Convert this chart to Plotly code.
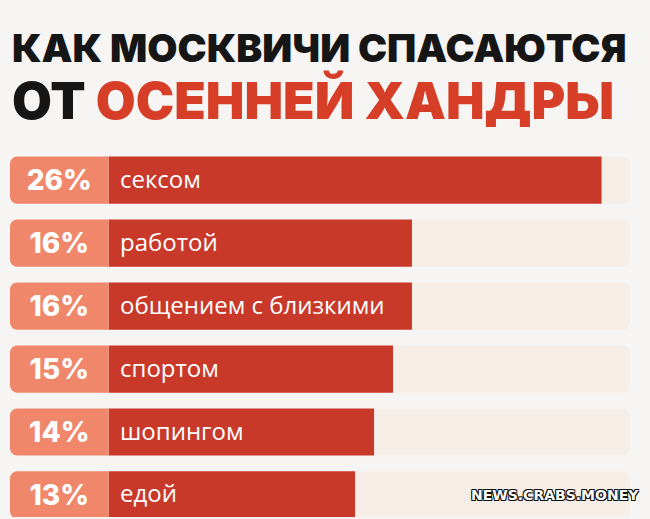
import plotly.graph_objects as go

categories = ["сексом", "работой", "общением с близкими", "спортом", "шопингом", "едой"]
values = [26, 16, 16, 15, 14, 13]
pct_labels = ["26%", "16%", "16%", "15%", "14%", "13%"]
title_line1 = "КАК МОСКВИЧИ СПАСАЮТСЯ"
title_line2_black = "ОТ"
title_line2_red = "ОСЕННЕЙ ХАНДРЫ"
watermark = "NEWS.CRABS.MONEY"

TRACK_MAX = 27.5
LABEL_W = 5.2

BG = "#f7f5f3"
RED = "#c9392a"
SALMON = "#f0876a"
TRACK = "#f6ede6"
TITLE_RED = "#d63e27"

y_idx = list(range(len(categories)))

fig = go.Figure()
# background track
fig.add_trace(go.Bar(
    y=y_idx, x=[TRACK_MAX] * len(categories), orientation="h",
    marker=dict(color=TRACK, cornerradius=7, line=dict(width=0)),
    width=0.75, hoverinfo="skip", showlegend=False))
# value bars
fig.add_trace(go.Bar(
    y=y_idx, x=values, orientation="h",
    marker=dict(color=RED, cornerradius=0, line=dict(width=0)),
    width=0.75, hoverinfo="skip", showlegend=False))
# percentage label boxes (to the left of zero)
fig.add_trace(go.Bar(
    y=y_idx, x=[-LABEL_W] * len(categories), orientation="h",
    marker=dict(color=SALMON, cornerradius=7, line=dict(width=0)),
    width=0.75, text=pct_labels, textposition="inside", insidetextanchor="middle",
    textfont=dict(family="Inter", size=28, color="white", weight=800),
    constraintext="none", textangle=0,
    hoverinfo="skip", showlegend=False))

annotations = []
for i, c in enumerate(categories):
    annotations.append(dict(
        x=0, y=i, xref="x", yref="y", text=c, showarrow=False,
        xanchor="left", yanchor="middle", xshift=9, yshift=2,
        font=dict(family="Open Sans", size=24, color="white", weight=500)))

plot_top = 133
plot_h = 384
def py(px):
    return (plot_top + plot_h - px) / plot_h

annotations.append(dict(
    x=0, y=py(47), xref="paper", yref="paper", xanchor="left", yanchor="middle",
    text=title_line1, showarrow=False,
    font=dict(family="Inter", size=39, color="#161616", weight=900)))
annotations.append(dict(
    x=0, y=py(100), xref="paper", yref="paper", xanchor="left", yanchor="middle",
    text=f"{title_line2_black} <span style='color:{TITLE_RED}'>{title_line2_red}</span>",
    showarrow=False,
    font=dict(family="Inter", size=51.5, color="#161616", weight=900)))
annotations.append(dict(
    x=1.0, y=py(495), xref="paper", yref="paper", xanchor="right", yanchor="middle",
    text=watermark, showarrow=False, xshift=11,
    font=dict(family="DejaVu Sans", size=14, color="white", weight=700,
              shadow="1px 1px 0 #111, -1px -1px 0 #111, 1px -1px 0 #111, -1px 1px 0 #111")))

fig.update_layout(
    width=650, height=519,
    margin=dict(l=10, r=20, t=plot_top, b=519 - plot_top - plot_h),
    paper_bgcolor=BG, plot_bgcolor=BG,
    barmode="overlay",
    xaxis=dict(range=[-LABEL_W, TRACK_MAX], visible=False, fixedrange=True),
    yaxis=dict(range=[5.35, -0.75], visible=False, fixedrange=True),
    annotations=annotations,
)

fig.write_html("out.html", config={"displayModeBar": False},
               post_script="document.body.style.margin='0';document.body.style.background='%s';" % BG)
